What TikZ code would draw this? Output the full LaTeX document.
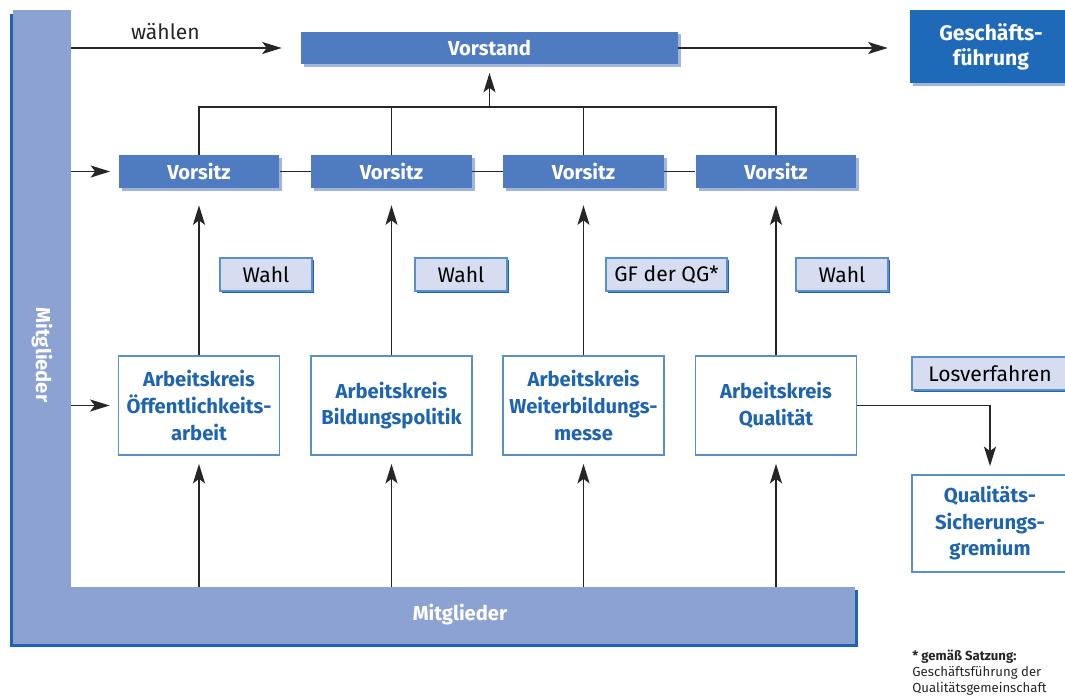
\documentclass[tikz,border=0pt]{standalone}
\usepackage{fontspec}
\setmainfont{Fira Sans}
\usetikzlibrary{arrows.meta, shadows}

\definecolor{barblue}{RGB}{139,162,210}
\definecolor{edgeblue}{RGB}{30,100,178}
\definecolor{headblue}{RGB}{79,123,192}
\definecolor{shadeblue}{RGB}{160,180,222}
\definecolor{gfblue}{RGB}{30,106,184}
\definecolor{votefill}{RGB}{215,221,241}
\definecolor{akborder}{RGB}{88,143,204}
\definecolor{aktext}{RGB}{30,100,175}

\begin{document}
\begin{tikzpicture}[x=0.02cm, y=-0.02cm]

\tikzset{bar/.style = {rectangle, fill=barblue, inner sep=0pt}}
\tikzset{bartext/.style = {text=white, font=\bfseries\fontsize{11.5}{14}\selectfont}}
\tikzset{head/.style = {rectangle, fill=headblue, text=white, inner sep=0pt,
  font=\bfseries\fontsize{11.5}{14}\selectfont, minimum height=0.66cm,
  drop shadow={shadow xshift=0.06cm, shadow yshift=-0.06cm, fill=shadeblue, opacity=1}}}
\tikzset{gf/.style = {head, fill=gfblue, align=center, minimum width=3.24cm,
  minimum height=1.46cm, font=\bfseries\fontsize{12}{14.2}\selectfont}}
\tikzset{vote/.style = {rectangle, fill=votefill, draw=akborder, line width=0.6pt,
  inner sep=0pt, minimum width=1.84cm, minimum height=0.66cm, font=\fontsize{12}{14}\selectfont,
  drop shadow={shadow xshift=0.04cm, shadow yshift=-0.04cm, fill=edgeblue, opacity=1}}}
\tikzset{ak/.style = {rectangle, fill=white, draw=akborder, line width=1pt, text=aktext,
  align=center, inner sep=0pt, minimum width=3.22cm, minimum height=1.98cm,
  font=\bfseries\fontsize{11.5}{15.1}\selectfont}}
\tikzset{line/.style = {line width=1.1pt, black!85}}
\tikzset{edge/.style = {line, ->, > = {Stealth[length=3.9mm, width=2.4mm, inset=0.9mm]}}}

\useasboundingbox (0,0) rectangle (1065,699);

%members frame
\fill[edgeblue] (10,14) rectangle (13,647);
\fill[edgeblue] (10,644) rectangle (858,647);
\fill[edgeblue] (855,590) rectangle (858,647);
\node[bar, minimum width=1.16cm, minimum height=12.68cm] (mitV) at (42,327) {};
\node[bar, minimum width=16.84cm, minimum height=1.14cm] (mitH) at (434,615.5) {};
\node[bartext, rotate=-90] (mitVtext) at (42,355) {Mitglieder};
\node[bartext] (mitHtext) at (460,615) {Mitglieder};

%top row
\node[head, minimum width=7.54cm] (vorstand) at (489.5,48) {Vorstand};
\node[gf] (gf) at (991,46.5) {Geschäfts-\\führung};

%chairs
\node[head, minimum width=3.22cm] (vs1) at (199,171.5) {Vorsitz};
\node[head, minimum width=3.22cm] (vs2) at (391.5,171.5) {Vorsitz};
\node[head, minimum width=3.22cm] (vs3) at (583.5,171.5) {Vorsitz};
\node[head, minimum width=3.22cm] (vs4) at (776,171.5) {Vorsitz};

%elections
\node[vote] (w1) at (266,274.5) {Wahl};
\node[vote] (w2) at (461,274.5) {Wahl};
\node[vote, minimum width=2.42cm] (w3) at (666.5,274.5) {GF der QG*};
\node[vote] (w4) at (842,274.5) {Wahl};
\node[vote, minimum width=3.12cm] (los) at (990,373.5) {Losverfahren};

%working groups
\node[ak] (ak1) at (199,405.5) {Arbeitskreis\\Öffentlichkeits-\\arbeit};
\node[ak] (ak2) at (391.5,405.5) {Arbeitskreis\\Bildungspolitik};
\node[ak] (ak3) at (583.5,405.5) {Arbeitskreis\\Weiterbildungs-\\messe};
\node[ak] (ak4) at (776,405.5) {Arbeitskreis\\Qualität};
\node[ak, minimum width=3.12cm, minimum height=1.94cm] (qsg) at (990,523.5) {Qualitäts-\\Sicherungs-\\gremium};

\node[anchor=north west, align=left, inner sep=0pt, text=black!85,
  font=\fontsize{7.5}{9}\selectfont] (note) at (912,650)
  {\textbf{* gemäß Satzung:}\\Geschäftsführung der\\Qualitätsgemeinschaft};

%connectors
\coordinate (junction) at (489.5,107);
\draw[edge, shorten >=0.38cm] (mitV.east |- vorstand.west) -- (vorstand.west)
  node[pos=0.41, above=1pt, font=\fontsize{12}{14}\selectfont] {wählen};
\draw[edge, shorten >=0.44cm] (vorstand.east) -- (gf.west |- vorstand.east);
\draw[edge, shorten >=0.16cm] (mitV.east |- vs1.west) -- (vs1.west);
\draw[edge, shorten >=0.16cm] (mitV.east |- ak1.west) -- (ak1.west);
\draw[line] (vs1.east) -- (vs2.west);
\draw[line] (vs2.east) -- (vs3.west);
\draw[line] (vs3.east) -- (vs4.west);
\draw[line] (vs1.north) |- (junction) -| (vs4.north);
\draw[line] (vs2.north) -- (vs2.north |- junction);
\draw[line] (vs3.north) -- (vs3.north |- junction);
\draw[edge, shorten >=0.16cm] (junction) -- (vorstand.south);
\draw[edge, shorten >=0.34cm] (ak1.north) -- (vs1.south);
\draw[edge, shorten >=0.34cm] (ak2.north) -- (vs2.south);
\draw[edge, shorten >=0.34cm] (ak3.north) -- (vs3.south);
\draw[edge, shorten >=0.34cm] (ak4.north) -- (vs4.south);
\draw[edge, shorten >=0.16cm] (ak1 |- mitH.north) -- (ak1.south);
\draw[edge, shorten >=0.16cm] (ak2 |- mitH.north) -- (ak2.south);
\draw[edge, shorten >=0.16cm] (ak3 |- mitH.north) -- (ak3.south);
\draw[edge, shorten >=0.16cm] (ak4 |- mitH.north) -- (ak4.south);
\draw[edge, shorten >=0.16cm] (ak4.east) -| (qsg.north);

\end{tikzpicture}
\end{document}
